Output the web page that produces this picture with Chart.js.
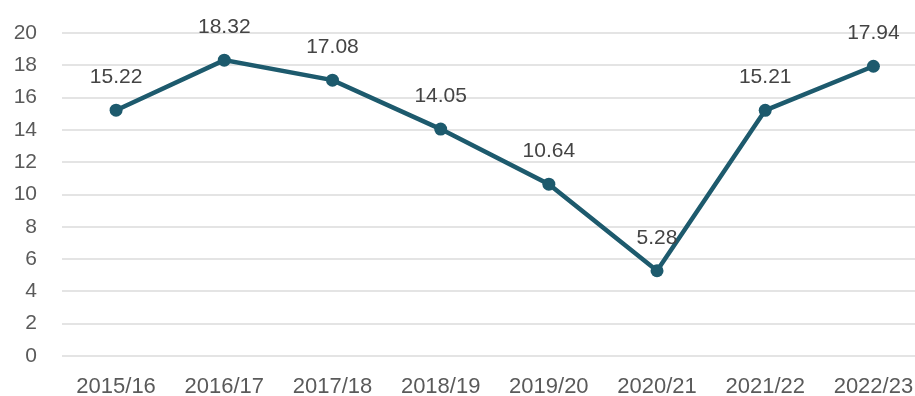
<!DOCTYPE html>
<html>
<head>
<meta charset="utf-8">
<script src="https://cdn.jsdelivr.net/npm/chart.js@4"></script>
<style>
  html, body { margin: 0; padding: 0; background: #fff; overflow: hidden; }
  #wrap { width: 934px; height: 396px; position: relative; }
</style>
</head>
<body>
<div id="wrap"><canvas id="season-chart"></canvas></div>
<script>
const seasons = ['2015/16', '2016/17', '2017/18', '2018/19', '2019/20', '2020/21', '2021/22', '2022/23'];
const values = [15.22, 18.32, 17.08, 14.05, 10.64, 5.28, 15.21, 17.94];
const yTicks = [0, 2, 4, 6, 8, 10, 12, 14, 16, 18, 20];

const lineColor = '#1d5a6d';
const fontFamily = '"Liberation Sans", Arial, sans-serif';

// writes each value above its point
const valueLabels = {
    id: 'valueLabels',
    afterDatasetsDraw(chart) {
        const ctx = chart.ctx;
        const meta = chart.getDatasetMeta(0);
        ctx.save();
        ctx.font = '21px ' + fontFamily;
        ctx.fillStyle = '#444';
        ctx.textAlign = 'center';
        ctx.textBaseline = 'middle';
        meta.data.forEach((pt, i) => {
            ctx.fillText(values[i].toFixed(2), pt.x, pt.y - 33);
        });
        ctx.restore();
    }
};

function createSeasonChart() {
    const ctx = document.getElementById('season-chart').getContext('2d');
    new Chart(ctx, {
        type: 'line',
        data: {
            labels: seasons,
            datasets: [{
                data: values,
                borderColor: lineColor,
                backgroundColor: lineColor,
                borderWidth: 4.5,
                pointRadius: 6.5,
                pointBorderWidth: 0,
                tension: 0
            }]
        },
        options: {
            responsive: true,
            maintainAspectRatio: false,
            animation: false,
            layout: {
                padding: { top: 33, left: 12, right: 3, bottom: 0 }
            },
            plugins: {
                legend: { display: false },
                tooltip: { enabled: false }
            },
            scales: {
                x: {
                    offset: true,
                    grid: { display: false, drawTicks: false },
                    border: { display: false },
                    afterFit: axis => {
                        axis.height = 40;
                        axis.paddingLeft = 0;
                        axis.paddingRight = 0;
                    },
                    ticks: {
                        color: '#5a5a5a',
                        padding: 18,
                        font: { family: fontFamily, size: 22 }
                    }
                },
                y: {
                    min: 0,
                    max: 20,
                    afterBuildTicks: axis => {
                        axis.ticks = yTicks.map(v => ({ value: v }));
                    },
                    afterFit: axis => {
                        axis.width = 50;
                        axis.paddingTop = 0;
                        axis.paddingBottom = 0;
                    },
                    grid: { color: '#e4e4e4', lineWidth: 2, drawTicks: false },
                    border: { display: false },
                    ticks: {
                        color: '#5a5a5a',
                        padding: 25,
                        font: { family: fontFamily, size: 21 }
                    }
                }
            }
        },
        plugins: [valueLabels]
    });
}

createSeasonChart();
</script>
</body>
</html>
